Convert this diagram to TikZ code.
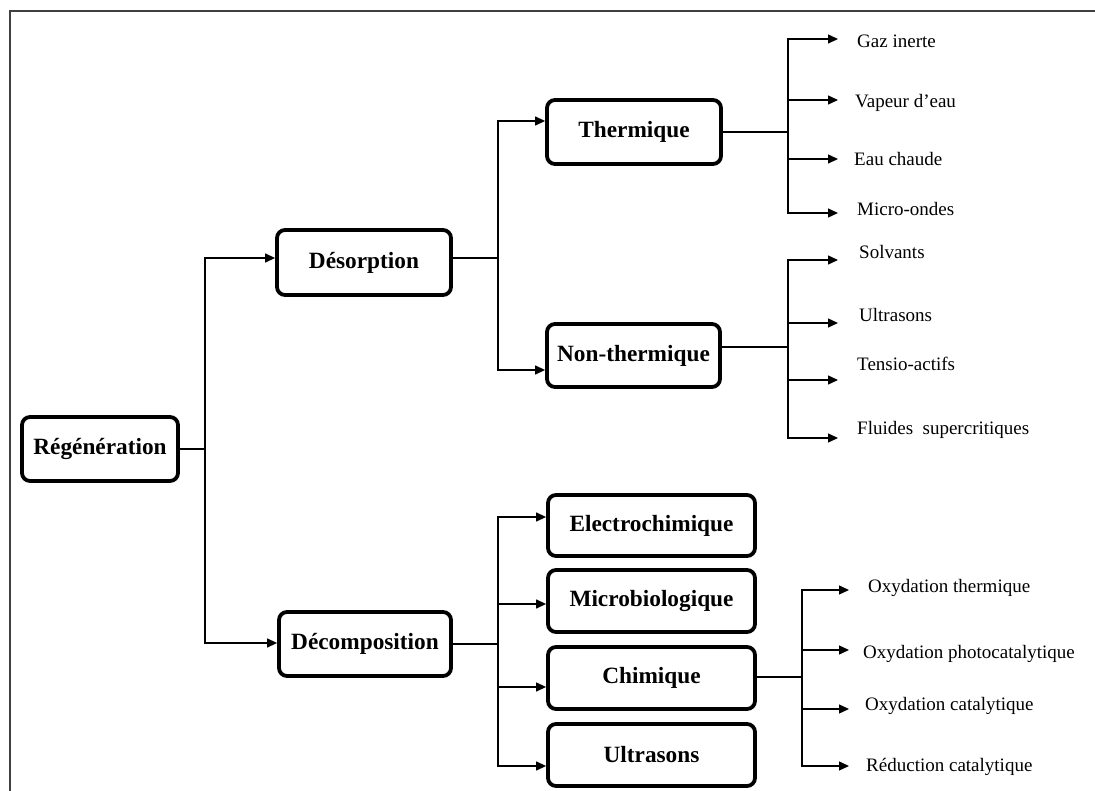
\documentclass[tikz,border=0pt]{standalone}
\usepackage{fontspec}
\setmainfont{Liberation Serif}
\usetikzlibrary{arrows.meta}
\begin{document}
\begin{tikzpicture}[x=1pt,y=-1pt,
  box/.style={draw, line width=3.8pt, rounded corners=8pt, fill=white, inner sep=0pt,
    font=\fontsize{23.3}{28}\selectfont\bfseries},
  conn/.style={line width=1.3pt},
  arr/.style={conn, -{Triangle[length=10pt,width=9pt]}},
  lbl/.style={anchor=west, inner sep=0pt, yshift=-3pt, font=\fontsize{19}{23}\selectfont,
    text height=1.5ex, text depth=.25ex}]
\useasboundingbox (0,0) rectangle (1095,791);
\draw[black!75, line width=1.5pt] (10,791) -- (10,11) -- (1095,11);

% main boxes
\node[box, minimum width=156pt, minimum height=64pt] (reg) at (100,449) {Régénération};
\node[box, minimum width=174pt, minimum height=65pt] (des) at (364,262.5) {Désorption};
\node[box, minimum width=172pt, minimum height=64pt] (dec) at (365,644) {Décomposition};
\node[box, minimum width=174pt, minimum height=64pt] (the) at (634,132) {Thermique};
\node[box, minimum width=173pt, minimum height=63pt] (nth) at (633.5,355.5) {Non-thermique};
\node[box, minimum width=207pt, minimum height=61pt] (ele) at (651.5,525.5) {Electrochimique};
\node[box, minimum width=207pt, minimum height=62pt] (mic) at (651.5,601) {Microbiologique};
\node[box, minimum width=207pt, minimum height=62pt] (chi) at (651.5,678) {Chimique};
\node[box, minimum width=207pt, minimum height=62pt] (ult) at (651.5,755) {Ultrasons};

% Régénération -> Désorption / Décomposition
\coordinate (j1) at (205,449);
\draw[conn] (reg.east) -- (j1);
\draw[arr] (j1) |- ([yshift=4.5pt]des.west);
\draw[arr] (j1) |- ([yshift=1pt]dec.west);

% Désorption -> Thermique / Non-thermique
\coordinate (j2) at (498,258);
\draw[conn] ([yshift=4.5pt]des.east) -- (j2);
\draw[arr] (j2) |- ([yshift=11pt]the.west);
\draw[arr] (j2) |- ([yshift=-14.5pt]nth.west);

% Décomposition -> four methods
\coordinate (j3) at (498,644);
\draw[conn] (dec.east) -- (j3);
\draw[arr] (j3) |- ([yshift=8.5pt]ele.west);
\draw[arr] (j3) |- ([yshift=-3pt]mic.west);
\draw[arr] (j3) |- ([yshift=-9pt]chi.west);
\draw[arr] (j3) |- ([yshift=-11pt]ult.west);

% Thermique fan
\coordinate (j4) at (788,132);
\draw[conn] (the.east) -- (j4);
\coordinate (a1) at (838,39);
\coordinate (a2) at (838,100);
\coordinate (a3) at (838,159);
\coordinate (a4) at (838,213);
\foreach \p in {a1,a2,a3,a4} \draw[arr] (j4) |- (\p);
\node[lbl] (l1) at (857,42) {Gaz inerte};
\node[lbl] (l2) at (855,102) {Vapeur d’eau};
\node[lbl] (l3) at (854,160) {Eau chaude};
\node[lbl] (l4) at (857,210) {Micro-ondes};

% Non-thermique fan
\coordinate (j5) at (788,347);
\draw[conn] ([yshift=8.5pt]nth.east) -- (j5);
\coordinate (b1) at (838,260);
\coordinate (b2) at (838,323);
\coordinate (b3) at (838,380);
\coordinate (b4) at (838,438);
\foreach \p in {b1,b2,b3,b4} \draw[arr] (j5) |- (\p);
\node[lbl] (m1) at (859,253) {Solvants};
\node[lbl] (m2) at (859,316) {Ultrasons};
\node[lbl] (m3) at (857,365) {Tensio-actifs};
\node[lbl] (m4) at (857,429) {Fluides\ \ supercritiques};

% Chimique fan
\coordinate (j6) at (802,677);
\draw[conn] ([yshift=1pt]chi.east) -- (j6);
\coordinate (c1) at (849,590);
\coordinate (c2) at (849,650);
\coordinate (c3) at (849,709);
\coordinate (c4) at (849,766);
\foreach \p in {c1,c2,c3,c4} \draw[arr] (j6) |- (\p);
\node[lbl] (n1) at (868,587) {Oxydation thermique};
\node[lbl] (n2) at (863,653) {Oxydation photocatalytique};
\node[lbl] (n3) at (865,705) {Oxydation catalytique};
\node[lbl] (n4) at (866,766) {Réduction catalytique};
\end{tikzpicture}
\end{document}
